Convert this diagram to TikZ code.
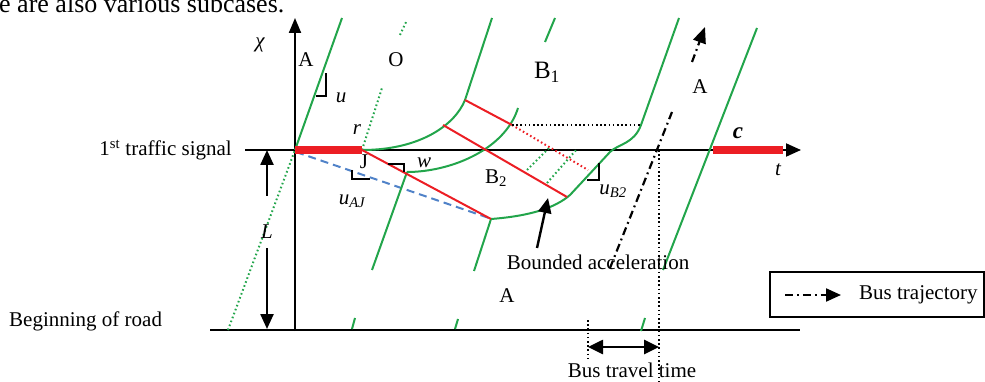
\documentclass[tikz,border=0pt]{standalone}
\usepackage{fontspec}
\setmainfont{Liberation Serif}
\usetikzlibrary{arrows.meta}
\definecolor{gline}{RGB}{34,165,75}
\definecolor{rline}{RGB}{236,30,36}
\definecolor{bline}{RGB}{80,130,200}
\tikzset{
  lbl/.style={inner sep=0pt, font=\fontsize{21}{25}\selectfont},
  axisline/.style={black, line width=2},
  gl/.style={gline, line width=2},
  gdot/.style={gline, line width=2, dash pattern=on 1.6pt off 2.6pt},
  rl/.style={rline, line width=2},
  rthick/.style={rline, line width=7.5},
  rdot/.style={rline, line width=2, dash pattern=on 1.6pt off 2.6pt},
  kdot/.style={black, line width=1.7, dash pattern=on 1.6pt off 2.6pt},
  bdash/.style={bline, line width=2, dash pattern=on 8pt off 5pt},
  busline/.style={black, line width=2.2, dash pattern=on 8pt off 4pt on 1.8pt off 4pt},
  marker/.style={black, line width=2.2},
  bigtip/.style={-{Triangle[length=15pt,width=13pt]}},
}
\begin{document}
\begin{tikzpicture}[x=1pt,y=-1pt]
\useasboundingbox (0,0) rectangle (985,382);
% key coordinates
\coordinate (O) at (295,150);
\coordinate (chitop) at (295,18);
\coordinate (chibot) at (295,331);
\coordinate (tleft) at (245,150);
\coordinate (tright) at (801,150);
\coordinate (roadL) at (210,330);
\coordinate (roadR) at (800,330);
\coordinate (J) at (362,150);
\coordinate (W) at (407,172);
\coordinate (Bot) at (491,219);
\coordinate (P1) at (443,125);
\coordinate (P2) at (465,100);
\coordinate (P3) at (512,125);
\coordinate (P4) at (567,197);
\coordinate (P5) at (641,125);
\coordinate (C1) at (713,150);
\coordinate (C2) at (783,150);

% top text
\node[inner sep=0pt, font=\fontsize{26}{30}\selectfont, anchor=base west] (toptext) at (-1,13) {e are also various subcases.};

% axes
\draw[axisline, -{Triangle[length=15pt,width=12pt]}] (chibot) -- (chitop);
\draw[axisline, bigtip] (tleft) -- (tright);
\draw[axisline] (roadL) -- (roadR);

% L arrows
\coordinate (Lu1) at (267,196);
\coordinate (Lu2) at (267,150);
\coordinate (Ld1) at (267,248);
\coordinate (Ld2) at (267,329);
\draw[axisline, line width=2.4, bigtip] (Lu1) -- (Lu2);
\draw[axisline, line width=2.4, bigtip] (Ld1) -- (Ld2);

% green A line and dotted extension
\draw[gdot] (228,330) -- (O);
\draw[gl] (O) -- (342,18);

% shock line r (dotted)
\draw[gdot] (J) -- (382,88);
\draw[gdot] (400,35) -- (407,20);

% blue dashed
\draw[bdash] (296,152) -- (489,218);

% green curves
\draw[gl] (J) .. controls (420,150) and (455,125) .. (P2) -- (492,18);
\draw[gl] (W) .. controls (450,172) and (505,150) .. (518,108);
\draw[gl] (545,42) -- (555,18);
\draw[gl] (Bot) .. controls (530,216) and (555,208) .. (570,195) -- (610,152)
   .. controls (618,144) and (634,144) .. (P5) -- (679,18);

% green vehicle lines below
\draw[gl] (W) -- (372,270);
\draw[gl] (352,329) -- (355,318);
\draw[gl] (Bot) -- (474,271);
\draw[gl] (455,329) -- (458,319);
\draw[gl] (757,28) -- (663,270);
\draw[gl] (641,331) -- (645,318);

% green dotted in B2
\draw[gdot] (527,170) -- (549,148);
\draw[gdot] (547,183) -- (577,149);

% red lines
\draw[rl] (J) -- (Bot);
\draw[rl] (P1) -- (P4);
\draw[rl] (P2) -- (P3);
\draw[rdot] (P3) -- (588,170);
\draw[kdot] (P3) -- (P5);

% red thick segments
\draw[rthick] (O) -- (J);
\draw[rthick] (C1) -- (C2);

% markers
\draw[marker] (316,96) -- (326,96) -- (326,73);
\draw[marker] (388,164) -- (404,164) -- (404,172);
\draw[marker] (352,170) -- (352,179) -- (370,179);
\draw[marker] (587,180) -- (599,180) -- (599,163);

% bus trajectory
\draw[busline] (610,268) -- (672,112);
\draw[busline, -{Triangle[length=16pt,width=13pt]}] (692,62) -- (705,27);

% dotted verticals
\draw[kdot] (659,150) -- (659,382);
\draw[kdot] (588,320) -- (588,358);

% bus travel time arrow
\draw[black, line width=2.6, {Triangle[length=15pt,width=14pt]}-{Triangle[length=15pt,width=14pt]}] (588,347) -- (659,347);

% bounded acceleration arrow
\draw[black, line width=2.4, -{Triangle[length=15pt,width=13pt]}] (537,248) -- (548,198);

% labels
\node[lbl] (chi) at (260,45) {\itshape χ};
\node[lbl] (lA1) at (306,60) {A};
\node[lbl] (lO) at (396,60) {O};
\node[lbl] (lu) at (341,98) {\itshape u};
\node[lbl] (lr) at (357,130) {\itshape r};
\node[lbl] (lJ) at (364,162) {J};
\node[lbl] (lw) at (424,163) {\itshape w};
\node[lbl] (luaj) at (352,201) {\itshape u\textsubscript{AJ}};
\node[lbl, font=\fontsize{25}{29}\selectfont] (lB1) at (547,72) {B\textsubscript{1}};
\node[lbl] (lB2) at (496,178) {B\textsubscript{2}};
\node[lbl] (lA2) at (700,87) {A};
\node[lbl, font=\fontsize{23}{27}\selectfont] (lc) at (738,133) {\bfseries\itshape c};
\node[lbl] (lt) at (778,170) {\itshape t};
\node[lbl] (lub2) at (613,191) {\itshape u\textsubscript{B2}};
\node[lbl] (lL) at (267,232) {\itshape L};
\node[lbl] (lA3) at (507,296) {A};
\node[lbl] (lbounded) at (598,262) {Bounded acceleration};
\node[lbl] (lbtt) at (632,370) {Bus travel time};
\node[lbl, anchor=west] (lbeg) at (9,321) {Beginning of road};
\node[lbl, anchor=east] (lsignal) at (232,150) {1\textsuperscript{st} traffic signal};

% legend
\draw[black, line width=2] (770,272) rectangle (984,317);
\coordinate (lg1) at (785,295);
\coordinate (lg2) at (841,295);
\draw[black, line width=2.2, dash pattern=on 8pt off 4pt on 1.8pt off 4pt, -{Triangle[length=15pt,width=13pt]}] (lg1) -- (lg2);
\node[lbl, anchor=west] (lleg) at (859,295) {Bus trajectory};
\end{tikzpicture}
\end{document}
